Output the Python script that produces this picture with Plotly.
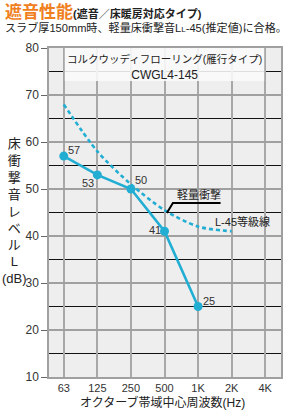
import plotly.graph_objects as go

# ---- data ----
freq_labels = ["63", "125", "250", "500", "1K", "2K", "4K"]
measured = [57, 53, 50, 41, 25]            # 63 .. 1K
l45_curve = [68, 58, 51, 45.5, 42, 41]     # 63 .. 2K
title_main = "遮音性能"
title_sub = "(遮音／床暖房対応タイプ)"
subtitle = "スラブ厚150mm時、軽量床衝撃音L<span style='font-size:8px'>L</span>-45(推定値)に合格。"
product_name = "コルクウッディフローリング(雁行タイプ)"
product_code = "CWGL4-145"
y_title_chars = ["床", "衝", "撃", "音", "レ", "ベ", "ル", "L", "(dB)"]
x_title = "オクターブ帯域中心周波数(Hz)"

CYAN = "#22aed3"
ORANGE = "#f07f1e"
FONT = "Liberation Sans, Noto Sans CJK JP, sans-serif"

xi_meas = list(range(len(measured)))
xi_curve = list(range(len(l45_curve)))

fig = go.Figure()

# L-45 standard curve (dashed)
fig.add_trace(go.Scatter(
    x=xi_curve, y=l45_curve, mode="lines",
    line=dict(color=CYAN, width=2.6, dash="4px,3px", shape="spline", smoothing=0.8),
    hoverinfo="skip", showlegend=False))

# measured
fig.add_trace(go.Scatter(
    x=xi_meas, y=measured, mode="lines+markers",
    line=dict(color=CYAN, width=2.6),
    marker=dict(color=CYAN, size=9),
    showlegend=False))

# leader line for 軽量衝撃
fig.add_trace(go.Scatter(
    x=[3.07, 3.25, 4.67], y=[44.9, 47.0, 47.0], mode="lines",
    line=dict(color="black", width=2), hoverinfo="skip", showlegend=False))

ann = []
# point value labels
offsets = [(10, 6), (-9, -8), (10, 9), (-10, 1), (11, 6)]
for i, v in enumerate(measured):
    dx, dy = offsets[i]
    ann.append(dict(x=xi_meas[i], y=v, text=str(v), showarrow=False,
                    xshift=dx, yshift=dy, font=dict(size=11, color="#333", family=FONT)))

ann.append(dict(x=4.02, y=47.0, text="軽量衝撃", showarrow=False, yanchor="bottom",
                yshift=0, font=dict(size=11, color="#222", family=FONT)))
ann.append(dict(x=5.32, y=43.0, text="L-45等級線", showarrow=False,
                font=dict(size=11, color="#222", family=FONT)))
ann.append(dict(x=3.0, y=75.8,
                text=f"<span style='font-size:10.5px'>{product_name}</span><br>{product_code}",
                showarrow=False, font=dict(size=12, color="#222", family=FONT)))

# titles
ann.append(dict(xref="paper", yref="paper", x=-0.197, y=1.108, xanchor="left", yanchor="middle",
                text=f"<span style='color:{ORANGE};font-size:17px'><b>{title_main}</b></span>"
                     f"<b>{title_sub}</b>",
                showarrow=False, font=dict(size=11, color="#222", family=FONT)))
ann.append(dict(xref="paper", yref="paper", x=-0.197, y=1.061, xanchor="left", yanchor="middle",
                text=subtitle, showarrow=False, font=dict(size=11.1, color="#222", family=FONT)))
ann.append(dict(xref="paper", yref="paper", x=-0.15, y=0.505, xanchor="center", yanchor="middle",
                text="<br>".join(y_title_chars), showarrow=False, align="center",
                font=dict(size=13, color="#222", family=FONT)))
ann.append(dict(xref="paper", yref="paper", x=0.491, y=-0.079, xanchor="center", yanchor="middle",
                text=x_title, showarrow=False, font=dict(size=12, color="#222", family=FONT)))

fig.update_layout(
    width=294, height=412,
    margin=dict(l=49, r=11, t=48, b=35),
    paper_bgcolor="white", plot_bgcolor="#eeeeee",
    annotations=ann,
    shapes=[dict(type="rect", xref="x", yref="y", x0=0.03, x1=5.97, y0=73.0, y1=80,
                 fillcolor="rgba(250,250,250,0.88)", line=dict(width=0), layer="between")],
    showlegend=False,
)
fig.update_xaxes(
    range=[-0.44, 6.47], tickvals=list(range(len(freq_labels))), ticktext=freq_labels,
    showgrid=True, gridcolor="#a8a8a8", gridwidth=1.5, zeroline=False,
    showline=True, linecolor="#a0a0a0", linewidth=1.5, mirror=True,
    ticks="", tickfont=dict(size=11, color="#333", family=FONT),
)
fig.update_yaxes(
    range=[10, 80], dtick=10, tick0=10,
    showgrid=True, gridcolor="#a0a0a0", gridwidth=2, zeroline=False,
    minor=dict(dtick=5, tick0=5, showgrid=True, gridcolor="#111", gridwidth=1),
    showline=True, linecolor="#a0a0a0", linewidth=1.5, mirror=True,
    ticks="outside", ticklen=6, tickcolor="#666", tickwidth=1,
    tickfont=dict(size=12, color="#333", family=FONT),
)

fig.write_html("out.html")
